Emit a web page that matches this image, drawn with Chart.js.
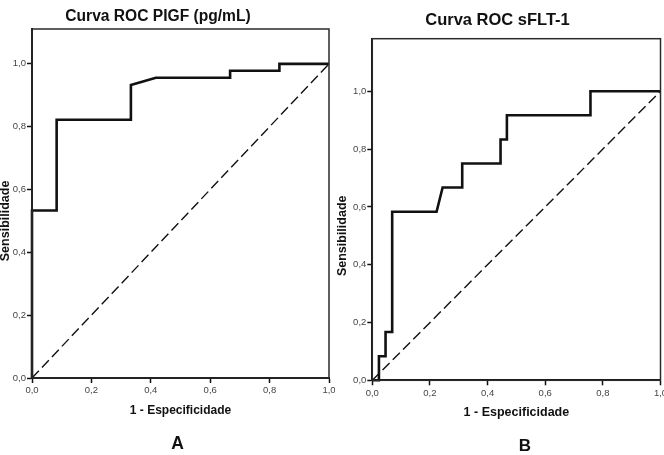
<!DOCTYPE html>
<html><head><meta charset="utf-8">
<script src="https://cdn.jsdelivr.net/npm/chart.js@4"></script>
<style>
html,body{margin:0;padding:0;background:#fff;width:664px;height:455px;overflow:hidden;font-family:"Liberation Sans",Arial,sans-serif;}
.c{position:absolute;top:0;height:455px;}
.t{position:absolute;font-weight:bold;color:#111;white-space:nowrap;transform:translate(-50%,-50%);line-height:1;}
</style></head><body>
<div class="c" style="left:0;width:335px"><canvas id="cA"></canvas></div>
<div class="c" style="left:335px;width:329px"><canvas id="cB"></canvas></div>
<div class="t" id="titleA" style="left:158px;top:16px;font-size:15.6px"></div>
<div class="t" id="titleB" style="left:497.5px;top:18.5px;font-size:16.5px"></div>
<div class="t" id="labelA" style="left:177.5px;top:443.5px;font-size:17.5px"></div>
<div class="t" id="labelB" style="left:525px;top:445px;font-size:17px"></div>
<script>
// ---- data ----
const chartTitles = ["Curva ROC PIGF (pg/mL)", "Curva ROC sFLT-1"];
const panelLabels = ["A", "B"];
const xAxisTitle = "1 - Especificidade";
const yAxisTitle = "Sensibilidade";
const tickValues = [0, 0.2, 0.4, 0.6, 0.8, 1.0];
const tickLabels = ["0,0", "0,2", "0,4", "0,6", "0,8", "1,0"];
// PlGF ROC curve: 1 - specificity (x) and sensitivity (y)
const plgfFpr = [0, 0, 0.083, 0.083, 0.333, 0.333, 0.417, 0.667, 0.667, 0.833, 0.833, 1];
const plgfTpr = [0, 0.533, 0.533, 0.822, 0.822, 0.933, 0.956, 0.956, 0.978, 0.978, 1, 1];
// sFLT-1 ROC curve
const sfltFpr = [0, 0.023, 0.023, 0.046, 0.046, 0.069, 0.069, 0.223, 0.244, 0.312, 0.312, 0.445, 0.445, 0.467, 0.467, 0.757, 0.757, 1];
const sfltTpr = [0, 0, 0.083, 0.083, 0.167, 0.167, 0.583, 0.583, 0.667, 0.667, 0.75, 0.75, 0.833, 0.833, 0.917, 0.917, 1, 1];
// reference (chance) line
const refFpr = [0, 1];
const refTpr = [0, 1];

document.getElementById('titleA').textContent = chartTitles[0];
document.getElementById('titleB').textContent = chartTitles[1];
document.getElementById('labelA').textContent = panelLabels[0];
document.getElementById('labelB').textContent = panelLabels[1];

const FONT = '"Liberation Sans", Arial, sans-serif';
const toPts = (xs, ys) => xs.map((x, i) => ({x: x, y: ys[i]}));
const tickLabel = v => { const i = tickValues.findIndex(t => Math.abs(t - v) < 1e-9); return i >= 0 ? tickLabels[i] : ''; };

const framePlugin = {
  id: 'frame',
  afterDraw(chart, args, opts) {
    const {ctx, chartArea: a} = chart;
    ctx.save();
    ctx.strokeStyle = '#2a2a2a';
    ctx.lineWidth = 1.5;
    ctx.strokeRect(a.left, a.top, a.right - a.left, a.bottom - a.top);
    const ys = chart.scales.y;
    ctx.translate(opts.titleX, ys.getPixelForValue(0.5));
    ctx.rotate(-Math.PI / 2);
    ctx.font = 'bold ' + opts.size + 'px ' + FONT;
    ctx.textAlign = 'center';
    ctx.textBaseline = 'middle';
    ctx.fillStyle = '#111';
    ctx.fillText(opts.text, 0, 0);
    ctx.restore();
  }
};

function makeChart(id, fpr, tpr, cfg) {
  return new Chart(document.getElementById(id), {
    type: 'scatter',
    data: {
      datasets: [
        {data: toPts(fpr, tpr), showLine: true, borderColor: '#111', borderWidth: 2.6, pointRadius: 0, fill: false, tension: 0, clip: 4, order: 0},
        {data: toPts(refFpr, refTpr), showLine: true, borderColor: '#111', borderWidth: 1.4, borderDash: [10, 4.5], pointRadius: 0, fill: false, tension: 0, clip: 4, order: 1}
      ]
    },
    options: {
      responsive: true,
      maintainAspectRatio: false,
      animation: false,
      events: [],
      layout: {padding: cfg.padding},
      plugins: {
        legend: {display: false},
        tooltip: {enabled: false},
        frame: {titleX: cfg.yTitleX, text: yAxisTitle, size: cfg.yTitleSize}
      },
      scales: {
        x: {
          type: 'linear', min: 0, max: 1,
          afterBuildTicks: s => { s.ticks = tickValues.map(v => ({value: v})); },
          afterFit: s => { s.height = 40; s.paddingLeft = 0; s.paddingRight = 0; },
          ticks: {callback: v => tickLabel(v), font: {size: cfg.tickSize, family: FONT}, color: '#444', padding: 2, maxRotation: 0, autoSkip: false},
          grid: {drawOnChartArea: false, drawTicks: true, tickLength: 5, tickColor: '#111', tickWidth: 1.5},
          border: {color: '#111', width: 2},
          title: {display: true, text: xAxisTitle, font: {size: cfg.xTitleSize, weight: 'bold', family: FONT}, color: '#111', padding: 0}
        },
        y: {
          type: 'linear', min: 0, max: cfg.yMax,
          afterBuildTicks: s => { s.ticks = tickValues.map(v => ({value: v})); },
          afterFit: s => { s.width = cfg.yWidth; s.paddingTop = 0; s.paddingBottom = 0; },
          ticks: {callback: v => tickLabel(v), font: {size: cfg.tickSize, family: FONT}, color: '#444', padding: 1, autoSkip: false},
          grid: {drawOnChartArea: false, drawTicks: true, tickLength: 5, tickColor: '#111', tickWidth: 1.5},
          border: {color: '#111', width: 2}
        }
      }
    },
    plugins: [framePlugin]
  });
}

makeChart('cA', plgfFpr, plgfTpr, {
  padding: {left: 0, top: 29, right: 6, bottom: 37},
  yWidth: 32, yMax: 1.111, yTitleX: 5.5, yTitleSize: 12.5, xTitleSize: 12, tickSize: 9.5
});
makeChart('cB', sfltFpr, sfltTpr, {
  padding: {left: 0, top: 38.7, right: 3.5, bottom: 34.7},
  yWidth: 37.3, yMax: 1.182, yTitleX: 8, yTitleSize: 12.5, xTitleSize: 12.5, tickSize: 9.5
});
</script>
</body></html>
